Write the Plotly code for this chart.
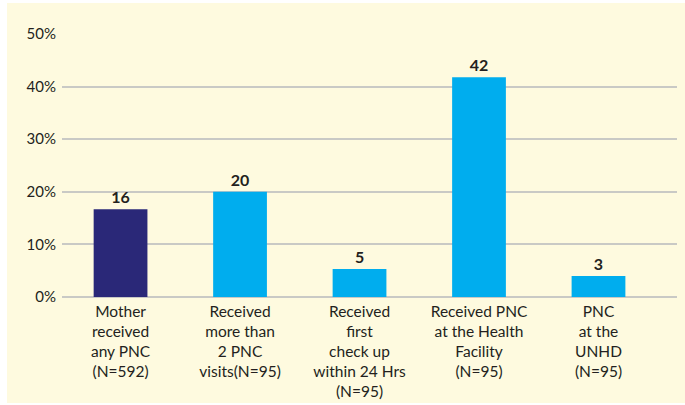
import plotly.graph_objects as go

categories = [
    "Mother<br>received<br>any PNC<br>(N=592)",
    "Received<br>more than<br>2 PNC<br>visits(N=95)",
    "Received<br>first<br>check up<br>within 24 Hrs<br>(N=95)",
    "Received PNC<br>at the Health<br>Facility<br>(N=95)",
    "PNC<br>at the<br>UNHD<br>(N=95)",
]
values = [16.7, 20, 5.3, 41.8, 4.0]
value_labels = ["16", "20", "5", "42", "3"]
bar_colors = ["#2A2878", "#00ADEE", "#00ADEE", "#00ADEE", "#00ADEE"]

font_family = "Lato, 'Open Sans', sans-serif"

fig = go.Figure(go.Bar(
    x=categories,
    y=values,
    text=value_labels,
    textposition="outside",
    cliponaxis=False,
    textfont=dict(size=16, color="#231F20", family=font_family, weight="bold"),
    marker=dict(color=bar_colors, line=dict(width=0)),
    width=0.45,
))

# yellow panel behind the chart
fig.add_shape(type="rect", xref="paper", yref="paper",
              x0=-0.0894, x1=1.02, y0=-0.403, y1=1.118,
              fillcolor="#FEFADF", line=dict(width=0), layer="below")

fig.update_layout(
    width=685, height=405,
    margin=dict(l=62, r=8, t=34, b=108, autoexpand=False),
    paper_bgcolor="white",
    plot_bgcolor="rgba(0,0,0,0)",
    showlegend=False,
    font=dict(family=font_family, size=15, color="#231F20"),
    xaxis=dict(
        range=[-0.49, 4.657], automargin=False,
        showgrid=False, showline=False, ticks="",
        ticklabelstandoff=3,
        tickfont=dict(size=15.5, color="#231F20"),
    ),
    yaxis=dict(
        range=[0, 50], dtick=10, ticksuffix="%", automargin=False,
        showgrid=True, gridcolor="#C9C9C5", gridwidth=2,
        zeroline=True, zerolinecolor="#C9C9C5", zerolinewidth=2,
        showline=False, ticks="",
        ticklabelstandoff=5,
        tickfont=dict(size=15, color="#231F20"),
    ),
)

# drop the default page margin so the figure sits at the window's corner
fig.write_html("out.html", config={"displayModeBar": False},
               post_script="document.body.style.margin='0';")
